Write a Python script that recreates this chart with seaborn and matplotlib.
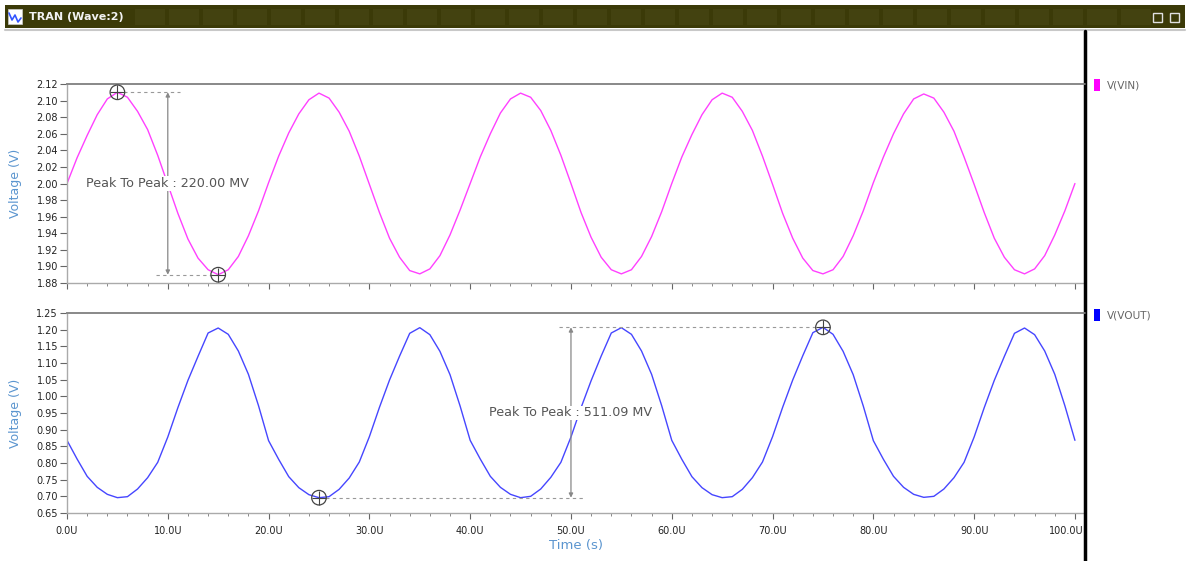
import numpy as np
import pandas as pd
import matplotlib
matplotlib.use("Agg")
import matplotlib.pyplot as plt
from matplotlib.patches import Rectangle
from matplotlib.lines import Line2D
from matplotlib.transforms import ScaledTranslation
import seaborn as sns

# ---- transient waveforms, sampled every 1 us ----
time_us = np.arange(0, 101, 1.0)

vin = [
    2.000, 2.031, 2.058, 2.083, 2.102, 2.110, 2.104, 2.087, 2.065, 2.034,
    1.999, 1.964, 1.933, 1.910, 1.896, 1.890, 1.896, 1.912, 1.937, 1.967,
    2.001, 2.033, 2.061, 2.084, 2.101, 2.109, 2.103, 2.086, 2.063, 2.033,
    1.999, 1.965, 1.934, 1.911, 1.895, 1.891, 1.897, 1.913, 1.938, 1.968,
    2.000, 2.032, 2.060, 2.085, 2.102, 2.109, 2.104, 2.088, 2.064, 2.034,
    2.000, 1.965, 1.935, 1.911, 1.896, 1.891, 1.896, 1.912, 1.936, 1.966,
    2.000, 2.032, 2.059, 2.083, 2.101, 2.109, 2.104, 2.087, 2.064, 2.033,
    1.999, 1.964, 1.934, 1.910, 1.895, 1.891, 1.896, 1.912, 1.937, 1.967,
    2.001, 2.032, 2.060, 2.084, 2.102, 2.108, 2.103, 2.086, 2.063, 2.032,
    1.999, 1.965, 1.934, 1.911, 1.896, 1.891, 1.897, 1.913, 1.938, 1.967,
    2.000,
]

vout = [
    0.868, 0.812, 0.760, 0.727, 0.706, 0.696, 0.699, 0.722, 0.756, 0.802,
    0.878, 0.966, 1.048, 1.120, 1.190, 1.205, 1.186, 1.136, 1.066, 0.972,
    0.867, 0.811, 0.759, 0.726, 0.705, 0.69591, 0.699, 0.721, 0.755, 0.803,
    0.879, 0.967, 1.049, 1.121, 1.189, 1.206, 1.185, 1.135, 1.065, 0.971,
    0.868, 0.812, 0.760, 0.727, 0.706, 0.696, 0.700, 0.722, 0.757, 0.802,
    0.878, 0.966, 1.047, 1.121, 1.190, 1.206, 1.186, 1.136, 1.066, 0.972,
    0.868, 0.811, 0.759, 0.726, 0.705, 0.696, 0.699, 0.721, 0.756, 0.803,
    0.879, 0.967, 1.049, 1.122, 1.191, 1.20700, 1.186, 1.135, 1.065, 0.971,
    0.867, 0.811, 0.760, 0.727, 0.706, 0.697, 0.700, 0.722, 0.756, 0.802,
    0.878, 0.966, 1.048, 1.120, 1.189, 1.205, 1.185, 1.136, 1.066, 0.972,
    0.868,
]

# cursor pairs (time in us) and the x position of each measurement arrow
vin_cursors = (5, 15)
vin_arrow_t = 10
vout_cursors = (25, 75)
vout_arrow_t = 50

x_ticks = [0, 10, 20, 30, 40, 50, 60, 70, 80, 90, 100]
x_tick_labels = [f"{v:.1f}U" for v in x_ticks]
vin_yticks = [1.88, 1.90, 1.92, 1.94, 1.96, 1.98, 2.00, 2.02, 2.04, 2.06, 2.08, 2.10, 2.12]
vout_yticks = [0.65, 0.70, 0.75, 0.80, 0.85, 0.90, 0.95, 1.00, 1.05, 1.10, 1.15, 1.20, 1.25]

df = pd.DataFrame({"t": time_us, "VIN": vin, "VOUT": vout})

sns.set_style("white")
plt.rcParams["font.family"] = ["DejaVu Sans"]

W, H = 1191, 561
fig = plt.figure(figsize=(W / 100, H / 100), dpi=100)
fig.patch.set_facecolor("white")


def fx(px):
    return px / W


def fy(py):
    return 1 - py / H


AX_L, AX_R = 67, 1083
XMAX = 100.8

ax1 = fig.add_axes([fx(AX_L), fy(283), fx(AX_R - AX_L), (283 - 84) / H])
ax2 = fig.add_axes([fx(AX_L), fy(513), fx(AX_R - AX_L), (513 - 313) / H])

MAGENTA = "#ff40ff"
BLUE = "#4646ff"
LABEL_BLUE = "#5b95cf"
GRAY_TXT = "#555555"

sns.lineplot(data=df, x="t", y="VIN", ax=ax1, color=MAGENTA, lw=1.0)
sns.lineplot(data=df, x="t", y="VOUT", ax=ax2, color=BLUE, lw=1.0)

for ax, lim, yt, fmt in (
    (ax1, (1.88, 2.12), vin_yticks, "{:.2f}"),
    (ax2, (0.65, 1.25), vout_yticks, "{:.2f}"),
):
    ax.set_xlim(0, XMAX)
    ax.set_ylim(*lim)
    ax.set_yticks(yt)
    ax.set_yticklabels([fmt.format(v) for v in yt])
    ax.set_xticks(x_ticks)
    ax.set_xticks(np.arange(0, 101, 2), minor=True)
    ax.tick_params(axis="y", which="major", direction="out", length=5, width=0.8,
                   color="#666666", labelsize=7, labelcolor="#222222", pad=1.5, left=True)
    ax.tick_params(axis="x", which="major", direction="out", length=4, width=0.8,
                   color="#666666", labelsize=7, labelcolor="#222222", pad=5, bottom=True)
    ax.tick_params(axis="x", which="minor", direction="out", length=2.5, width=0.7,
                   color="#888888", bottom=True)
    ax.set_xlabel("")
    ax.set_ylabel("Voltage (V)", color=LABEL_BLUE, fontsize=9)
    ax.yaxis.set_label_coords(-0.044, 0.5)
    ax.spines["right"].set_visible(False)
    for s in ("left", "bottom"):
        ax.spines[s].set_color("#aaaaaa")
        ax.spines[s].set_linewidth(1.0)
    ax.spines["top"].set_color("#888888")
    ax.spines["top"].set_linewidth(1.4)

ax1.set_xticklabels([])
ax2.set_xticklabels(x_tick_labels)
# keep the last time label inside the plot frame
last = ax2.get_xticklabels()[-1]
last.set_transform(last.get_transform() + ScaledTranslation(-9 / 100, 0, fig.dpi_scale_trans))

fig.text(fx(576), fy(545), "Time (s)", color=LABEL_BLUE, fontsize=9.5, ha="center", va="center")


def peak_to_peak(ax, t_vals, y_vals, cursors, arrow_t, text_xy):
    ta, tb = cursors
    ya = y_vals[int(ta)]
    yb = y_vals[int(tb)]
    hi_t, hi = (ta, ya) if ya > yb else (tb, yb)
    lo_t, lo = (tb, yb) if ya > yb else (ta, ya)
    dash = dict(color="#999999", lw=0.8, ls=(0, (3, 3)))
    ax.plot([min(hi_t, arrow_t - 1.2), max(hi_t, arrow_t + 1.2)], [hi, hi], **dash)
    ax.plot([min(lo_t, arrow_t - 1.2), max(lo_t, arrow_t + 1.2)], [lo, lo], **dash)
    ax.annotate("", xy=(arrow_t, lo), xytext=(arrow_t, hi),
                arrowprops=dict(arrowstyle="<|-|>", color="#888888", lw=0.9,
                                mutation_scale=6, shrinkA=0, shrinkB=0))
    for tt, yy in ((hi_t, hi), (lo_t, lo)):
        ax.scatter([tt], [yy], s=110, facecolors="none", edgecolors="#444444",
                   linewidths=0.9, zorder=5)
        ax.scatter([tt], [yy], s=110, marker="+", color="#444444", linewidths=0.8, zorder=5)
    mv = (hi - lo) * 1000
    ax.text(text_xy[0], text_xy[1], f"Peak To Peak : {mv:.2f} MV", fontsize=9.2,
            color=GRAY_TXT, ha="left", va="center", zorder=6,
            bbox=dict(boxstyle="square,pad=0.05", fc="white", ec="none"))


peak_to_peak(ax1, time_us, vin, vin_cursors, vin_arrow_t, (1.9, 2.000))
peak_to_peak(ax2, time_us, vout, vout_cursors, vout_arrow_t, (41.9, 0.951))

# ---- window chrome: title bar, separator and legend column ----
fig.patches.append(Rectangle((fx(5), fy(28)), fx(1180), 23 / H, transform=fig.transFigure,
                             fc="#3b3a08", ec="none", zorder=0))
for k in range(0, 34):
    x0 = 135 + k * 34
    if x0 > 1130:
        break
    fig.patches.append(Rectangle((fx(x0), fy(25)), fx(30), 16 / H, transform=fig.transFigure,
                                 fc="#434210", ec="none", zorder=0.5))
fig.lines.append(Line2D([fx(5), fx(1185)], [fy(30), fy(30)], transform=fig.transFigure,
                        color="#c8c8c8", lw=1.5))
# title bar icon
fig.patches.append(Rectangle((fx(8), fy(24)), fx(14), 15 / H, transform=fig.transFigure,
                             fc="white", ec="#cccccc", lw=0.5, zorder=1))
fig.lines.append(Line2D([fx(9), fx(12), fx(15), fx(18), fx(21)],
                        [fy(13), fy(20), fy(15), fy(22), fy(18)],
                        transform=fig.transFigure, color="#3355ff", lw=1.2, zorder=2))
fig.text(fx(29), fy(17), "TRAN (Wave:2)", color="#f2f2f2", fontsize=8, fontweight="bold",
         ha="left", va="center")
for xi in (1153, 1170):
    fig.patches.append(Rectangle((fx(xi), fy(22)), fx(9), 9 / H, transform=fig.transFigure,
                                 fc="none", ec="#e0e0e0", lw=1.0, zorder=2))

# vertical divider between plots and legend
fig.lines.append(Line2D([fx(1085), fx(1085)], [fy(31), 0], transform=fig.transFigure,
                        color="black", lw=2.5))
# extend the top frame lines to the divider
for py in (84, 313):
    fig.lines.append(Line2D([fx(AX_R), fx(1085)], [fy(py), fy(py)], transform=fig.transFigure,
                            color="#888888", lw=1.2))

# legend entries
for py, col, name in ((85, "#ff00ff", "V(VIN)"), (315, "#0000ff", "V(VOUT)")):
    fig.patches.append(Rectangle((fx(1094), fy(py + 6)), fx(6), 12 / H, transform=fig.transFigure,
                                 fc=col, ec="none"))
    fig.text(fx(1107), fy(py), name, color="#666666", fontsize=7.6, ha="left", va="center")

fig.savefig("out.png", dpi=100, facecolor="white")
